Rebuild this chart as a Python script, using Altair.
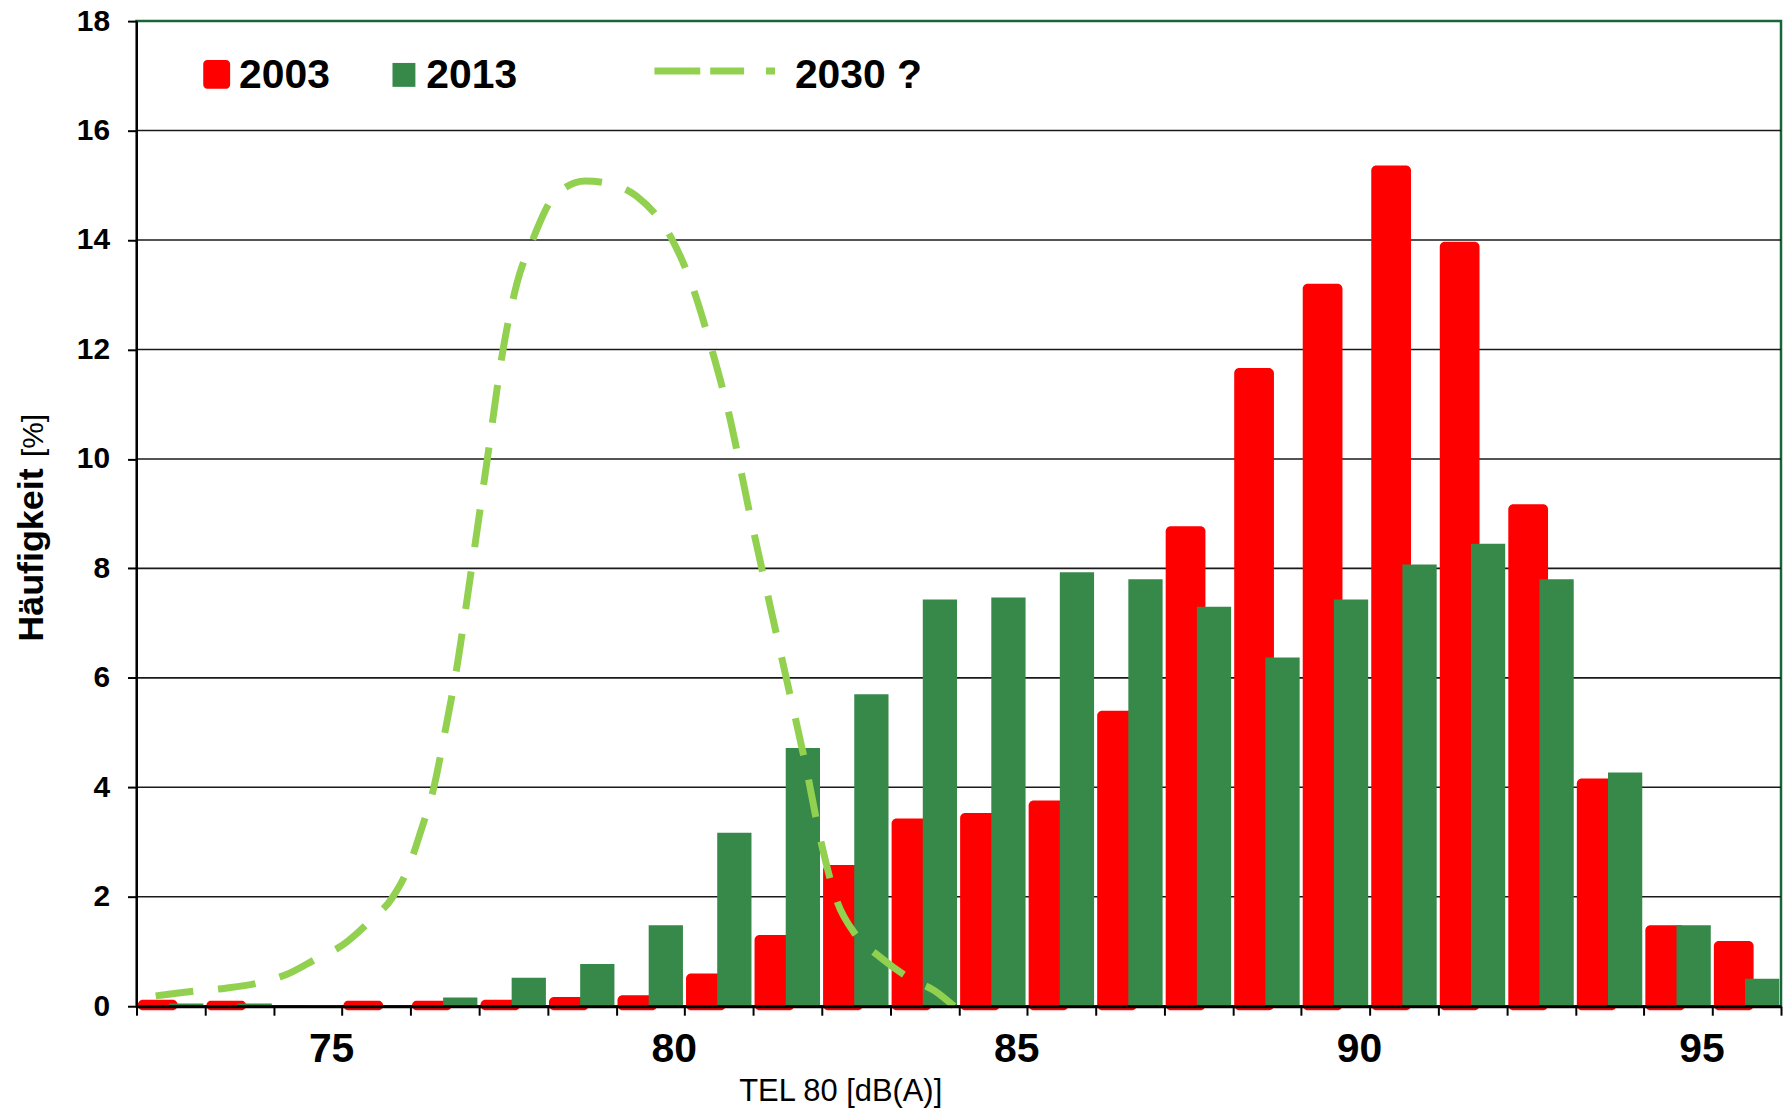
import altair as alt
import pandas as pd

# ---------------- data ----------------
bin_start = list(range(72, 96))  # 1 dB classes 72-73 ... 95-96
tel_2003 = [0.12, 0.10, 0.0, 0.10, 0.10, 0.12, 0.17, 0.20, 0.60, 1.30, 2.58, 3.43,
            3.53, 3.76, 5.40, 8.77, 11.66, 13.20, 15.36, 13.97, 9.17, 4.16, 1.48, 1.19]
tel_2013 = [0.05, 0.05, 0.02, 0.0, 0.16, 0.52, 0.77, 1.48, 3.17, 4.72, 5.70, 7.43,
            7.47, 7.93, 7.80, 7.30, 6.37, 7.43, 8.07, 8.45, 7.80, 4.27, 1.48, 0.50]

curve_x = [72.28, 72.8, 73.3, 73.76, 74.17, 74.63, 75.0, 75.42, 75.72, 75.97, 76.15,
           76.34, 76.5, 76.65, 76.89, 77.12, 77.35, 77.55, 77.78, 78.1, 78.55, 78.9,
           79.3, 79.8, 80.1, 80.35, 80.65, 80.95, 81.25, 81.5, 81.75, 82.0, 82.2,
           82.5, 82.85, 83.3, 83.65, 83.93]
curve_y = [0.19, 0.27, 0.33, 0.42, 0.57, 0.87, 1.11, 1.57, 1.96, 2.54, 3.2,
           4.0, 5.0, 6.0, 8.0, 10.0, 12.0, 13.2, 14.0, 14.8, 15.08, 15.03,
           14.8, 14.05, 13.2, 12.2, 10.8, 9.0, 7.3, 5.9, 4.5, 2.95, 2.0,
           1.3, 0.9, 0.5, 0.28, 0.0]

y_ticks = [0, 2, 4, 6, 8, 10, 12, 14, 16, 18]
grid_values = [2, 4, 6, 8, 10, 12, 14, 16]
x_ticks = list(range(72, 97))
x_labels = [75, 80, 85, 90, 95]
series_names = ["2003", "2013", "2030 ?"]
x_title = "TEL 80 [dB(A)]"
y_title_bold = "Häufigkeit"
y_title_unit = "[%]"

# ---------------- styles ----------------
W, H = 1651, 989
RED = "#FF0000"
GREEN = "#37894A"
LIGHT = "#92D050"
FONT = "Liberation Sans"

x_scale = alt.Scale(domain=[72, 96], nice=False, zero=False)
y_scale = alt.Scale(domain=[0, 18], nice=False, zero=True)

bars = pd.DataFrame({"bin": bin_start, "v2003": tel_2003, "v2013": tel_2013})
red_df = bars[bars["v2003"] > 0].copy()
red_df["x0"] = red_df["bin"] + 0.02
red_df["x1"] = red_df["bin"] + 0.60
green_df = bars[bars["v2013"] > 0].copy()
green_df["x0"] = green_df["bin"] + 0.475
green_df["x1"] = green_df["bin"] + 0.975

label_expr = f"indexof({x_labels}, datum.value) >= 0 ? datum.label : ''"

x_axis = alt.Axis(values=x_ticks, labelExpr=label_expr, title=None,
                  labelFont=FONT, labelFontSize=41, labelFontWeight="bold",
                  labelColor="black", labelPadding=14, labelOffset=-11,
                  labelOverlap=False, labelFlush=False, labelBound=False,
                  tickSize=9, tickWidth=2, tickColor="black",
                  domainColor="black", domainWidth=3, grid=False, zindex=1)
y_axis = alt.Axis(values=y_ticks, title=None, labelFont=FONT, labelFontSize=30,
                  labelFontWeight="bold", labelColor="black", labelPadding=18,
                  labelOverlap=False, labelFlush=False, labelBound=False,
                  tickSize=9, tickWidth=2, tickColor="black",
                  domainColor="black", domainWidth=2, grid=False, zindex=1)

grid = alt.Chart(pd.DataFrame({"g": grid_values})).mark_rule(
    color="#1a1a1a", strokeWidth=1.6).encode(
    y=alt.Y("g:Q", scale=y_scale, axis=y_axis))

red_bars = alt.Chart(red_df).mark_bar(color=RED, cornerRadius=5).encode(
    x=alt.X("x0:Q", scale=x_scale, axis=x_axis),
    x2="x1:Q",
    y=alt.Y("v2003:Q", scale=y_scale, axis=y_axis),
    y2=alt.value(H + 4),
)

green_bars = alt.Chart(green_df).mark_bar(color=GREEN, cornerRadius=0).encode(
    x=alt.X("x0:Q", scale=x_scale, axis=x_axis),
    x2="x1:Q",
    y=alt.Y("v2013:Q", scale=y_scale, axis=y_axis),
    y2=alt.datum(0),
)

curve = alt.Chart(pd.DataFrame({"x": curve_x, "y": curve_y})).mark_line(
    color=LIGHT, strokeWidth=7, strokeDash=[38, 25], strokeCap="butt",
    interpolate="monotone", clip=False).encode(
    x=alt.X("x:Q", scale=x_scale, axis=x_axis),
    y=alt.Y("y:Q", scale=y_scale, axis=y_axis),
)

one = pd.DataFrame({"a": [0]})

# legend
leg_red = alt.Chart(one).mark_rect(color=RED, cornerRadius=4).encode(
    x=alt.value(67), x2=alt.value(94), y=alt.value(39), y2=alt.value(68))
leg_green = alt.Chart(one).mark_rect(color=GREEN).encode(
    x=alt.value(257), x2=alt.value(280), y=alt.value(42), y2=alt.value(66))
leg_line = alt.Chart(one).mark_rule(
    color=LIGHT, strokeWidth=7, strokeDash=[46, 10, 34, 22, 9, 200], strokeCap="butt").encode(
    x=alt.value(520), x2=alt.value(641), y=alt.value(50))
leg_x = [103, 291, 661]
leg_texts = [
    alt.Chart(pd.DataFrame({"t": [name]})).mark_text(
        font=FONT, fontSize=41, fontWeight="bold", color="black",
        align="left", baseline="middle").encode(
        text="t:N", x=alt.value(px), y=alt.value(55))
    for name, px in zip(series_names, leg_x)
]

# axis titles
ytitle1 = alt.Chart(pd.DataFrame({"t": [y_title_bold]})).mark_text(
    font=FONT, fontSize=36, fontWeight="bold", color="black", angle=270,
    align="center", baseline="middle").encode(
    text="t:N", x=alt.value(-105), y=alt.value(536))
ytitle2 = alt.Chart(pd.DataFrame({"t": [y_title_unit]})).mark_text(
    font=FONT, fontSize=30, fontWeight="normal", color="black", angle=270,
    align="center", baseline="middle").encode(
    text="t:N", x=alt.value(-103), y=alt.value(416))
xtitle = alt.Chart(pd.DataFrame({"t": [x_title]})).mark_text(
    font=FONT, fontSize=31, color="black", align="center", baseline="middle").encode(
    text="t:N", x=alt.value(707), y=alt.value(1075))

chart = alt.layer(
    grid, red_bars, green_bars, curve,
    leg_red, leg_green, leg_line, *leg_texts,
    ytitle1, ytitle2, xtitle,
).properties(
    width=W, height=H,
    autosize=alt.AutoSizeParams(type="none"),
    padding={"left": 129, "top": 11, "right": 3, "bottom": 100},
    background="white",
).configure_view(stroke="#17663A", strokeWidth=2.5)

chart.save("out.html", embed_options={"renderer": "svg", "actions": False})
